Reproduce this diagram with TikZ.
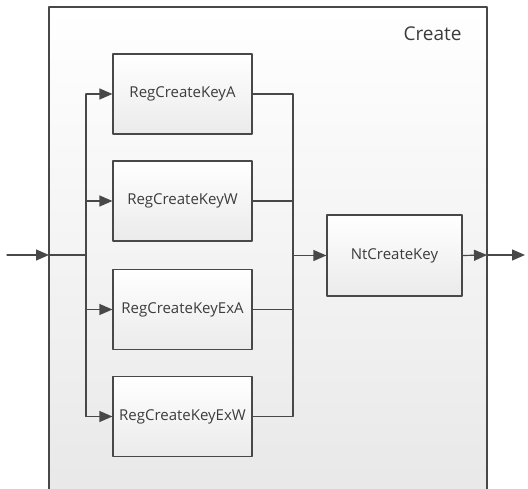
\documentclass[tikz,border=0pt]{standalone}
\usepackage{fontspec}
\setmainfont{Open Sans}
\usetikzlibrary{arrows.meta}
\definecolor{lngray}{RGB}{72,72,72}
\definecolor{txgray}{RGB}{60,60,60}
\tikzset{fnbox/.style={draw=lngray,line width=1.2pt,top color=white,bottom color=black!8,
  minimum width=139pt,minimum height=80pt,inner sep=0pt,text=txgray,font=\fontsize{15}{17}\selectfont},
  arr/.style={-{Triangle[length=13pt,width=11pt,fill=lngray]}}}

\begin{document}
\begin{tikzpicture}[line cap=round,line join=round,x=1pt,y=1pt]

\useasboundingbox (0,0) rectangle (528,488);

% outer block
\begin{scope}
\clip (0,0) rectangle (528,488);
\draw [draw=lngray,line width=1.2pt,top color=white,bottom color=black!9] (49,481) rectangle (487,-10);
\end{scope}
\node [anchor=east,text=txgray,font=\fontsize{19}{21}\selectfont] (title) at (465,454) {Create};

\node [fnbox] (ka) at (182.5,394) {RegCreateKeyA};
\node [fnbox] (kw) at (182.5,287) {RegCreateKeyW};
\node [fnbox] (kxa) at (182.5,178.5) {RegCreateKeyExA};
\node [fnbox] (kxw) at (182.5,71.5) {RegCreateKeyExW};
\node [fnbox,minimum width=135pt,minimum height=81pt] (nt) at (394.5,232.5) {NtCreateKey};

\coordinate (in) at (7,233);
\coordinate (inb) at (49,233);
\coordinate (lbus) at (86,233);
\coordinate (rbus) at (293,233);
\coordinate (outb) at (487,233);
\coordinate (out) at (525,233);

% connectors
\draw [draw=lngray,line width=1.2pt] (inb)-- (lbus);
\draw [draw=lngray,line width=1.2pt] (ka.west -| lbus)-- (kxw.west -| lbus);
\draw [draw=lngray,line width=1.2pt] (ka.east)-- (ka.east -| rbus)-- (kxw.east -| rbus)-- (kxw.east);
\draw [draw=lngray,line width=1.2pt] (kw.east)-- (kw.east -| rbus);
\draw [draw=lngray,line width=1.2pt] (kxa.east)-- (kxa.east -| rbus);
\draw [draw=lngray,line width=1.2pt,arr] (in)-- (inb);
\draw [draw=lngray,line width=1.2pt,arr] (ka.west -| lbus)-- (ka.west);
\draw [draw=lngray,line width=1.2pt,arr] (kw.west -| lbus)-- (kw.west);
\draw [draw=lngray,line width=1.2pt,arr] (kxa.west -| lbus)-- (kxa.west);
\draw [draw=lngray,line width=1.2pt,arr] (kxw.west -| lbus)-- (kxw.west);
\draw [draw=lngray,line width=1.2pt,arr] (nt.west -| rbus)-- (nt.west);
\draw [draw=lngray,line width=1.2pt,arr] (nt.east)-- (outb);
\draw [draw=lngray,line width=1.2pt,arr] (outb)-- (out);
\end{tikzpicture}
\end{document}
